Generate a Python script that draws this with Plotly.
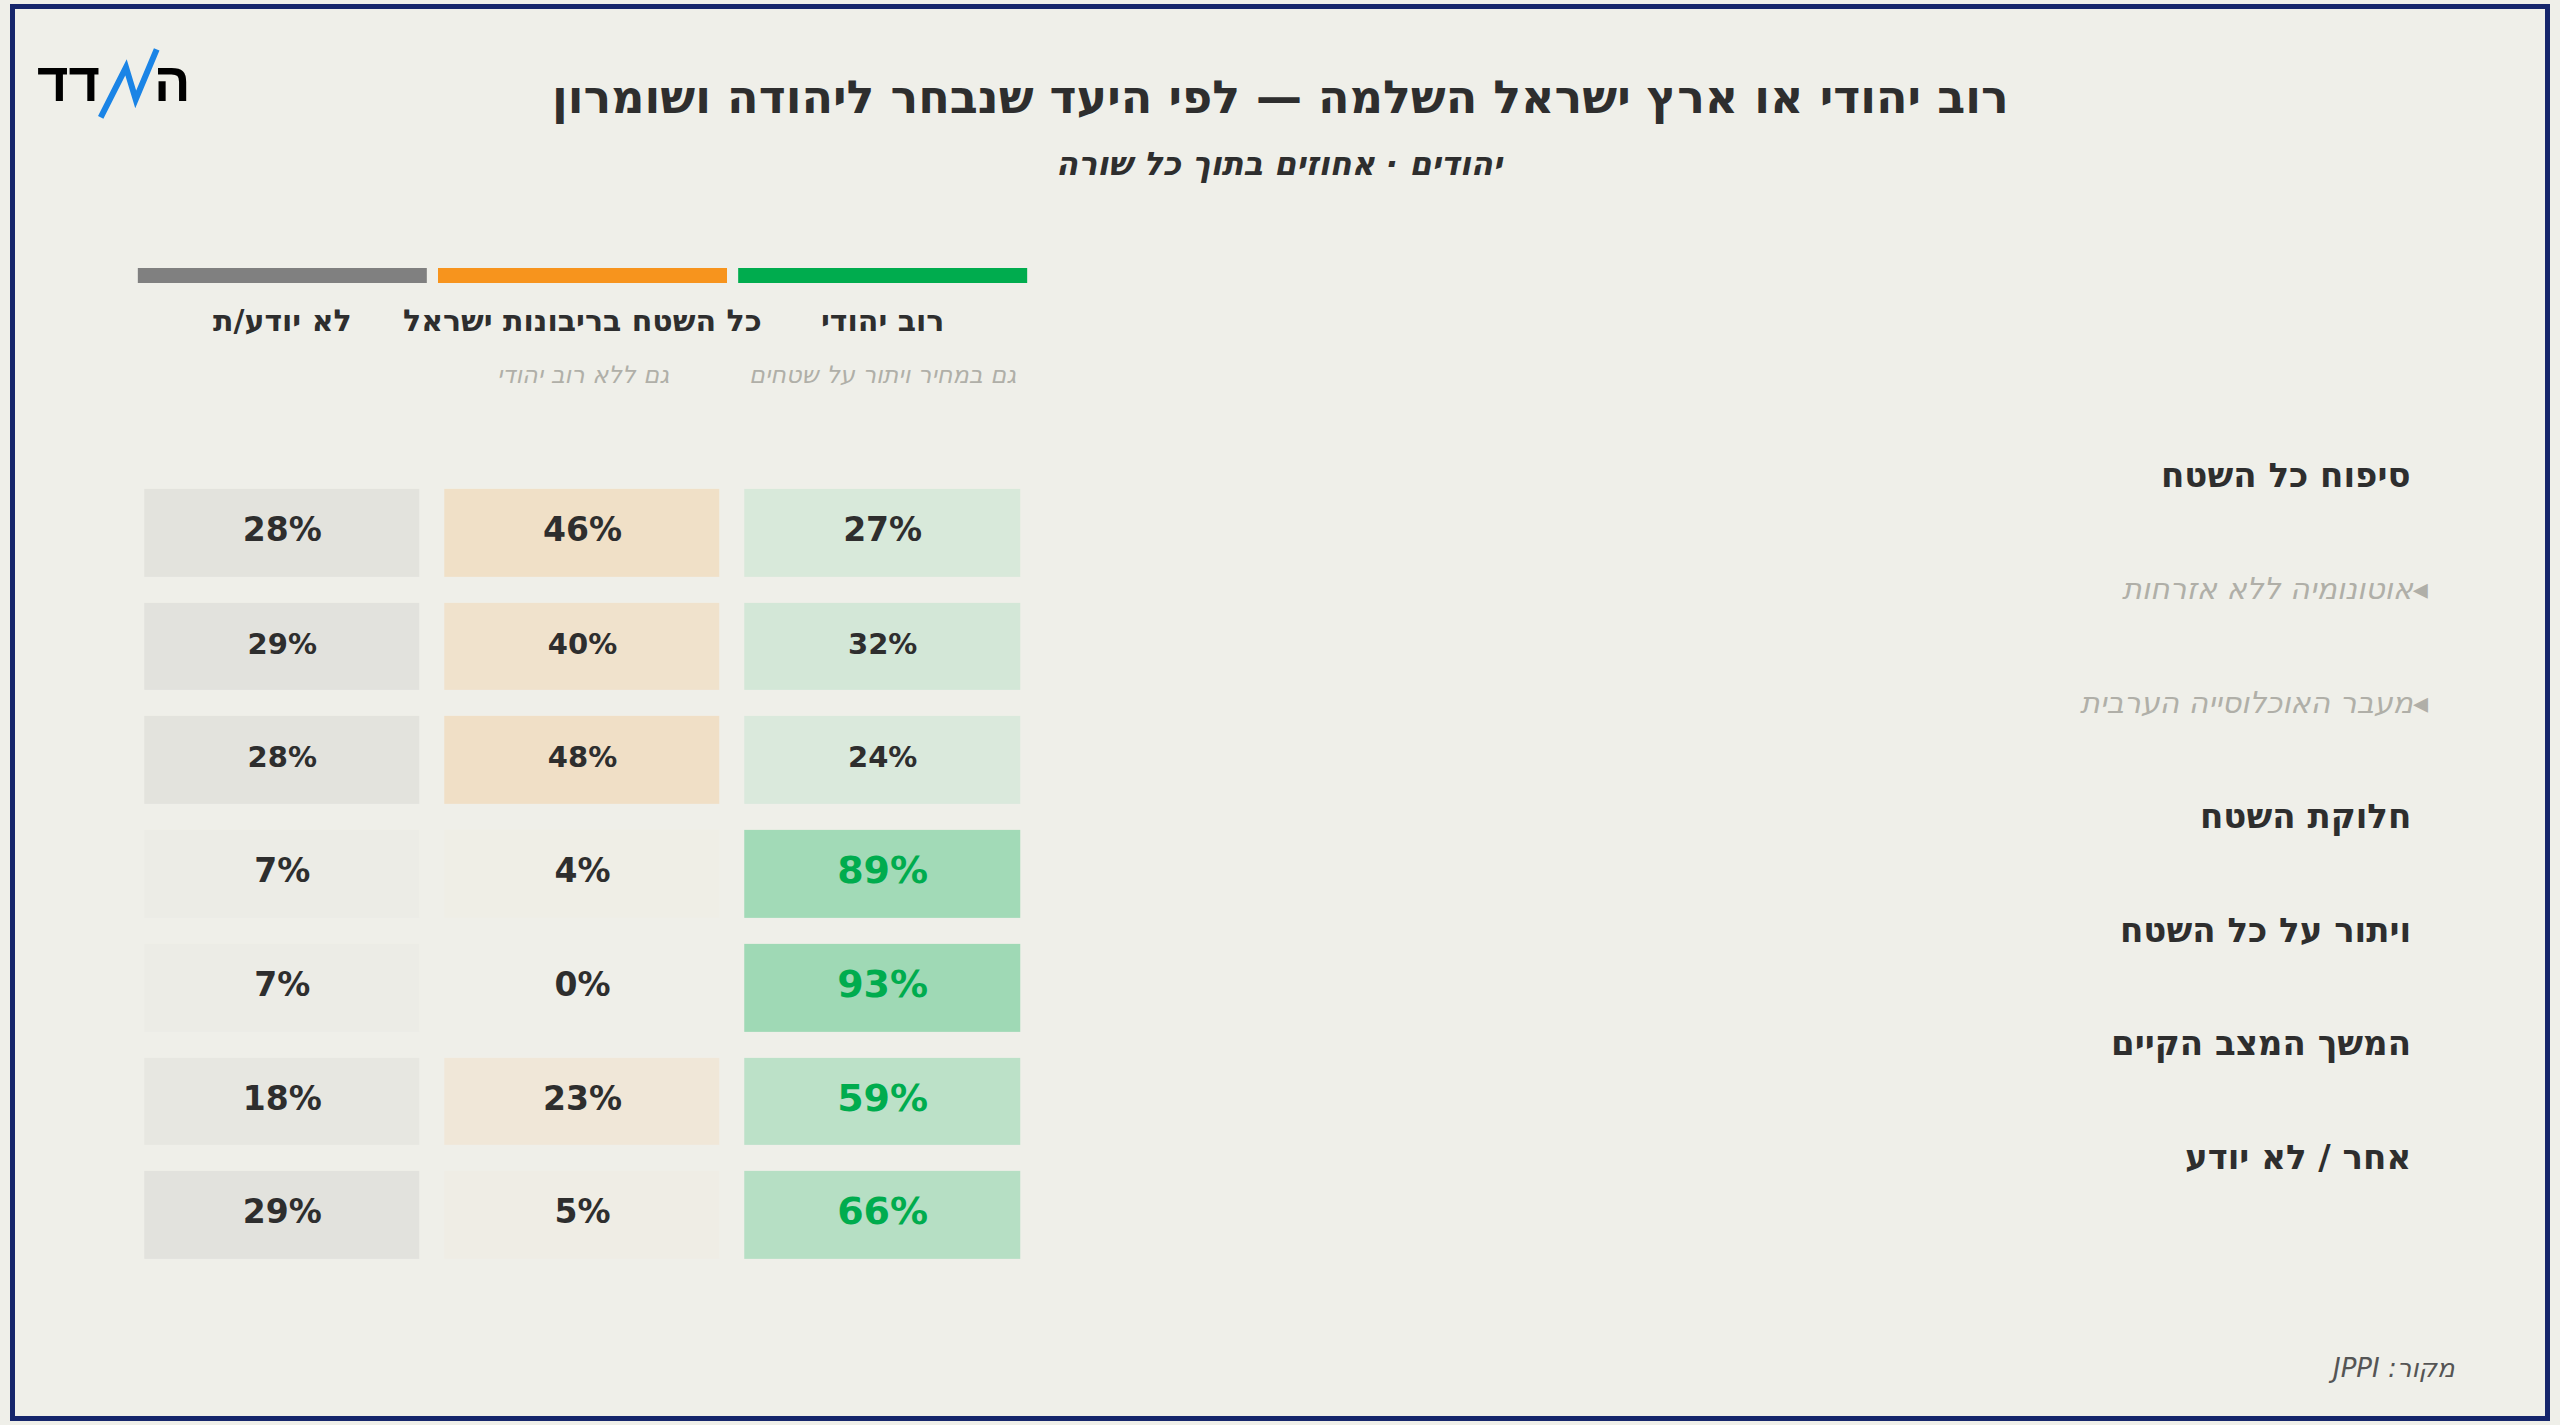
import plotly.graph_objects as go

# ---- data ----
columns = ["רוב יהודי", "כל השטח בריבונות ישראל", "לא יודע/ת"]
column_notes = ["גם במחיר ויתור על שטחים", "גם ללא רוב יהודי", ""]
rows = [
    "סיפוח כל השטח",
    "אוטונומיה ללא אזרחות",
    "מעבר האוכלוסייה הערבית",
    "חלוקת השטח",
    "ויתור על כל השטח",
    "המשך המצב הקיים",
    "אחר / לא יודע",
]
sub_rows = [False, True, True, False, False, False, False]
jewish_majority = [27, 32, 24, 89, 93, 59, 66]
greater_israel = [46, 40, 48, 4, 0, 23, 5]
dont_know = [28, 29, 28, 7, 7, 18, 29]
values = [jewish_majority, greater_israel, dont_know]

title = "רוב יהודי או ארץ ישראל השלמה — לפי היעד שנבחר ליהודה ושומרון"
subtitle = "יהודים · אחוזים בתוך כל שורה"
source = "מקור: JPPI"

# ---- style ----
BG = "#efefe9"
DARK = "#2e2e2e"
MUTED = "#b0afa8"
GREEN = "#00ac4e"
col_colors = ["#00ac4e", "#f7941d", "#808080"]
col_alpha = [0.36, 0.36, 0.40]
FONT = "DejaVu Sans"

W, H = 2560, 1425


def px(x):
    return x / W


def py(y):
    return 1 - y / H


def blend(hex_color, a):
    c = [int(hex_color[i:i + 2], 16) for i in (1, 3, 5)]
    b = [int(BG[i:i + 2], 16) for i in (1, 3, 5)]
    r = [round(b[k] * (1 - a) + c[k] * a) for k in range(3)]
    return "rgb(%d,%d,%d)" % tuple(r)


fig = go.Figure()

# cells: one heatmap per column, blank elsewhere
for j, col in enumerate(columns):
    z = [[v if k == j else None for k in range(len(columns))] for v in values[j]]
    fig.add_trace(go.Heatmap(
        x=columns, y=rows, z=z,
        zmin=0, zmax=100,
        colorscale=[[0, BG], [1, blend(col_colors[j], col_alpha[j])]],
        showscale=False, xgap=25, ygap=26, hoverinfo="skip",
    ))

# cell labels
tx, ty, tt, tsize, tcolor = [], [], [], [], []
for j, col in enumerate(columns):
    for i, r in enumerate(rows):
        v = values[j][i]
        tx.append(col)
        ty.append(r)
        tt.append(f"{v}%")
        if j == 0 and v >= 50:
            tsize.append(38)
            tcolor.append(GREEN)
        else:
            tsize.append(29 if sub_rows[i] else 33)
            tcolor.append(DARK)

fig.add_trace(go.Scatter(
    x=tx, y=ty, text=tt, mode="text",
    textfont=dict(family=FONT, size=tsize, color=tcolor, weight="bold"),
    hoverinfo="skip", showlegend=False,
))

annotations = []
shapes = []


def note(x, y, text, font, xref="paper", yref="paper", **kw):
    d = dict(x=x, y=y, xref=xref, yref=yref, text=text, showarrow=False,
             xanchor="center", yanchor="middle", font=font)
    d.update(kw)
    annotations.append(d)


# column headers + colour keys
for j, col in enumerate(columns):
    shapes.append(dict(
        type="rect", xref="x", yref="paper",
        x0=col, x1=col, x0shift=-0.4814, x1shift=0.4814,
        y0=py(283), y1=py(268),
        fillcolor=col_colors[j], line=dict(width=0), layer="above",
    ))
    note(col, py(320), col, dict(family=FONT, size=30, color=DARK, weight="bold"),
         xref="x")
    if column_notes[j]:
        note(col, py(375), column_notes[j],
             dict(family=FONT, size=24, color=MUTED, style="italic"), xref="x")

# row labels (sit a little above their rows, as in the original)
for i, r in enumerate(rows):
    if sub_rows[i]:
        note(px(2430), r, "\u202b◂" + r + "\u202c",
             dict(family=FONT, size=30, color=MUTED, style="italic"),
             yref="y", xanchor="right", yshift=58)
    else:
        note(px(2413), r, r,
             dict(family=FONT, size=34, color=DARK, weight="bold"),
             yref="y", xanchor="right", yshift=58)

# titles
note(0.5, py(97), title, dict(family=FONT, size=46, color=DARK, weight="bold"))
note(0.5, py(164), subtitle,
     dict(family=FONT, size=32, color=DARK, weight="bold", style="italic"))
note(px(2458), py(1368), "\u202b" + source + "\u202c",
     dict(family=FONT, size=26, color="#555555", style="italic"), xanchor="right")

# logo
logo_font = dict(family="Liberation Sans", size=54, color="#000000", weight="bold")
note(px(68), py(82), "דד", logo_font)
note(px(172), py(82), "ה", logo_font)
zig = [(100.7, 117.3), (126, 67.3), (135.7, 99.3), (156.7, 49.3)]
path = "M" + " L".join(f"{px(a):.5f},{py(b):.5f}" for a, b in zig)
shapes.append(dict(type="path", xref="paper", yref="paper", path=path,
                   line=dict(color="#1a84e6", width=6)))

# frame
shapes.append(dict(type="rect", xref="paper", yref="paper",
                   x0=px(12.5), x1=px(2547.5), y0=py(1418.5), y1=py(6.5),
                   line=dict(color="#15256b", width=5)))

fig.update_layout(
    width=W, height=H,
    margin=dict(l=0, r=0, t=0, b=0),
    paper_bgcolor=BG, plot_bgcolor=BG,
    font=dict(family=FONT, color=DARK),
    showlegend=False,
    xaxis=dict(domain=[px(132.25), px(1032.75)], range=[2.5, -0.5],
               visible=False, fixedrange=True),
    yaxis=dict(domain=[py(1271.85), py(475.85)], range=[6.5, -0.5],
               visible=False, fixedrange=True),
    annotations=annotations,
    shapes=shapes,
)

fig.write_html(
    "out.html",
    config={"displayModeBar": False},
    post_script="document.body.style.margin='0';"
                "document.body.style.background='%s';"
                "document.body.style.overflow='hidden';" % BG,
)
